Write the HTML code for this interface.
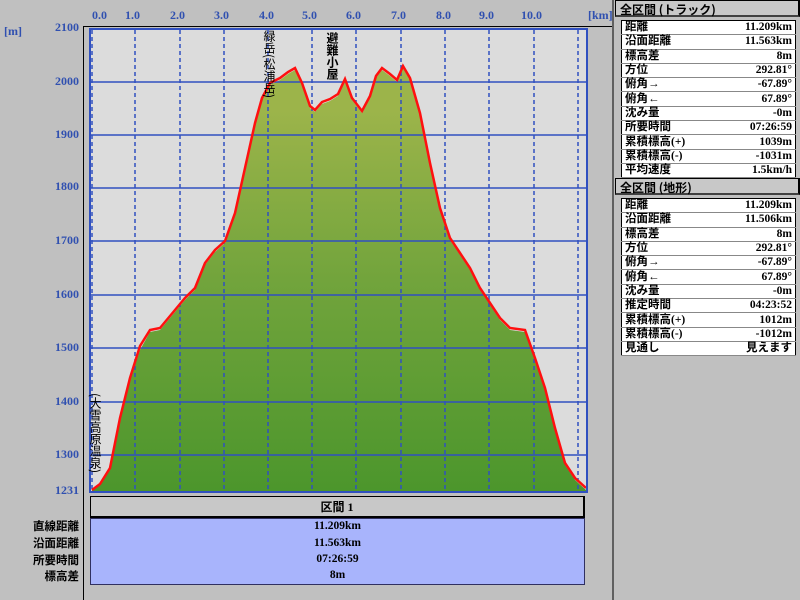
<!DOCTYPE html>
<html><head><meta charset="utf-8"><style>
body{margin:0;width:800px;height:600px;background:#c0c0c0;font-family:"Liberation Serif","Noto Serif CJK SC","Noto Sans CJK JP",serif;overflow:hidden;position:relative}
.a{position:absolute}
.ax{font-size:12px;font-weight:bold;color:#3050b0;font-family:"Liberation Serif",serif}
.yl{right:721px;text-align:right}
.panel{position:absolute;left:615px;width:185px}
.hd{height:17px;border:1px solid #000;border-right:2px solid #000;border-bottom:2px solid #404040;background:#c8c8c8;font-size:12px;font-weight:bold;padding-left:4px;line-height:17px;box-sizing:border-box;font-family:"Noto Sans CJK JP",sans-serif}
table.t{position:absolute;left:621px;width:175px;border-collapse:collapse;background:#fff;border:1px solid #000}
table.t td{border-bottom:1px solid #888;height:13.3px;padding:0 3px;font-size:11.5px;font-weight:bold;line-height:13px;font-family:"Liberation Serif","Noto Sans CJK JP",serif}
table.t td+td{text-align:right}
.vt{writing-mode:vertical-rl;font-size:12px;font-family:"Noto Sans CJK JP",sans-serif;color:#000}
.bl{position:absolute;right:721px;font-size:11.5px;font-weight:bold;font-family:"Noto Sans CJK JP",sans-serif}
.br{position:absolute;left:90px;width:495px;text-align:center;font-size:11.5px;font-weight:bold}
</style></head><body>
<div class="a" style="left:83px;top:26px;width:1px;height:574px;background:#000"></div>
<div class="a" style="left:83px;top:26px;width:530px;height:1px;background:#000"></div>
<div class="a" style="left:612px;top:0;width:2px;height:600px;background:#606060"></div>
<div class="ax a" style="left:92px;top:8px">0.0</div>
<div class="ax a" style="left:125px;top:8px">1.0</div>
<div class="ax a" style="left:170px;top:8px">2.0</div>
<div class="ax a" style="left:214px;top:8px">3.0</div>
<div class="ax a" style="left:259px;top:8px">4.0</div>
<div class="ax a" style="left:302px;top:8px">5.0</div>
<div class="ax a" style="left:346px;top:8px">6.0</div>
<div class="ax a" style="left:391px;top:8px">7.0</div>
<div class="ax a" style="left:436px;top:8px">8.0</div>
<div class="ax a" style="left:479px;top:8px">9.0</div>
<div class="ax a" style="left:521px;top:8px">10.0</div>
<div class="ax a" style="left:588px;top:8px">[km]</div>
<div class="ax a" style="left:4px;top:24px">[m]</div>
<div class="ax a yl" style="top:20px">2100</div>
<div class="ax a yl" style="top:74px">2000</div>
<div class="ax a yl" style="top:127px">1900</div>
<div class="ax a yl" style="top:179px">1800</div>
<div class="ax a yl" style="top:233px">1700</div>
<div class="ax a yl" style="top:287px">1600</div>
<div class="ax a yl" style="top:340px">1500</div>
<div class="ax a yl" style="top:394px">1400</div>
<div class="ax a yl" style="top:447px">1300</div>
<div class="ax a yl" style="top:483px">1231</div>
<svg class="a" style="left:0;top:0" width="800" height="600">
<defs><linearGradient id="g" x1="0" y1="0" x2="0" y2="1"><stop offset="0.1" stop-color="#9cb44a"/><stop offset="0.5" stop-color="#72a43c"/><stop offset="1" stop-color="#4c962c"/></linearGradient></defs>
<rect x="90" y="29" width="497" height="463" fill="#dcdcdc" stroke="#3050c0" stroke-width="2"/>
<path id="p" d="M92,490 L100,485 L110,470 L120,420 L130,380 L140,350 L150,332 L160,330 L170,318 L185,300 L195,290 L205,265 L215,252 L225,243 L235,215 L245,170 L255,125 L262,100 L270,85 L280,80 L288,74 L295,70 L302,85 L310,108 L315,112 L322,104 L330,101 L338,96 L345,81 L352,100 L362,113 L370,98 L376,78 L382,70 L390,76 L397,82 L403,68 L410,80 L420,115 L430,165 L440,210 L450,240 L460,255 L470,270 L480,290 L490,305 L500,320 L510,330 L525,332 L535,360 L545,390 L555,430 L565,465 L575,480 L586,490 L586,491 L92,491 Z" fill="url(#g)"/>
<g stroke="#3050c0" stroke-width="1.5">
<line x1="90" y1="82" x2="587" y2="82"/><line x1="90" y1="135" x2="587" y2="135"/><line x1="90" y1="188" x2="587" y2="188"/><line x1="90" y1="241" x2="587" y2="241"/><line x1="90" y1="295" x2="587" y2="295"/><line x1="90" y1="348" x2="587" y2="348"/><line x1="90" y1="402" x2="587" y2="402"/><line x1="90" y1="455" x2="587" y2="455"/>
</g>
<g stroke="#3050c0" stroke-width="1.5" stroke-dasharray="4,3">
<line x1="92" y1="30" x2="92" y2="491"/><line x1="135" y1="30" x2="135" y2="491"/><line x1="180" y1="30" x2="180" y2="491"/><line x1="224" y1="30" x2="224" y2="491"/><line x1="268" y1="30" x2="268" y2="491"/><line x1="312" y1="30" x2="312" y2="491"/><line x1="356" y1="30" x2="356" y2="491"/><line x1="401" y1="30" x2="401" y2="491"/><line x1="445" y1="30" x2="445" y2="491"/><line x1="489" y1="30" x2="489" y2="491"/><line x1="534" y1="30" x2="534" y2="491"/><line x1="578" y1="30" x2="578" y2="491"/>
</g>
<polyline fill="none" stroke="#ff1010" stroke-width="2.5" points="92,490 100,484 110,468 120,418 130,378 140,346 150,330 160,328 170,316 185,298 195,288 205,263 215,250 225,241 235,213 245,168 255,123 262,98 270,83 280,78 288,72 295,68 302,83 310,106 315,110 322,102 330,99 338,94 345,79 352,98 362,111 370,96 376,76 382,68 390,74 397,80 403,66 410,78 420,113 430,163 440,208 450,238 460,253 470,268 480,288 490,303 500,318 510,328 525,330 535,358 545,388 555,428 565,463 575,478 586,488"/>
<rect x="90" y="29" width="497" height="463" fill="none" stroke="#3050c0" stroke-width="2"/>
</svg>
<div class="a vt" style="left:261px;top:30px">緑岳(松浦岳)</div>
<div class="a vt" style="left:326px;top:32px;line-height:12px;font-weight:bold">避難小屋</div>
<div class="a vt" style="left:87px;top:393px">(大雪高原温泉)</div>
<div class="a" style="left:90px;top:496px;width:495px;height:22px;background:#c8c8c8;border:1px solid #000;border-right:2px solid #000;border-bottom:2px solid #000;box-sizing:border-box;text-align:center;font-size:12px;font-weight:bold;line-height:20px;font-family:'Liberation Serif','Noto Sans CJK JP',serif">区間 1</div>
<div class="a" style="left:90px;top:518px;width:495px;height:67px;background:#a8b4fc;border:1px solid #303060;box-sizing:border-box"></div>
<div class="bl" style="top:518px">直線距離</div><div class="br" style="top:520px">11.209km</div>
<div class="bl" style="top:535px">沿面距離</div><div class="br" style="top:537px">11.563km</div>
<div class="bl" style="top:552px">所要時間</div><div class="br" style="top:553px">07:26:59</div>
<div class="bl" style="top:568px">標高差</div><div class="br" style="top:569px">8m</div>
<div class="panel hd" style="top:0">全区間 (トラック)</div>
<table class="t" style="top:20px">
<tr><td>距離</td><td>11.209km</td></tr><tr><td>沿面距離</td><td>11.563km</td></tr><tr><td>標高差</td><td>8m</td></tr><tr><td>方位</td><td>292.81°</td></tr><tr><td>俯角→</td><td>-67.89°</td></tr><tr><td>俯角←</td><td>67.89°</td></tr><tr><td>沈み量</td><td>-0m</td></tr><tr><td>所要時間</td><td>07:26:59</td></tr><tr><td>累積標高(+)</td><td>1039m</td></tr><tr><td>累積標高(-)</td><td>-1031m</td></tr><tr><td>平均速度</td><td>1.5km/h</td></tr>
</table>
<div class="panel hd" style="top:178px">全区間 (地形)</div>
<table class="t" style="top:198px">
<tr><td>距離</td><td>11.209km</td></tr><tr><td>沿面距離</td><td>11.506km</td></tr><tr><td>標高差</td><td>8m</td></tr><tr><td>方位</td><td>292.81°</td></tr><tr><td>俯角→</td><td>-67.89°</td></tr><tr><td>俯角←</td><td>67.89°</td></tr><tr><td>沈み量</td><td>-0m</td></tr><tr><td>推定時間</td><td>04:23:52</td></tr><tr><td>累積標高(+)</td><td>1012m</td></tr><tr><td>累積標高(-)</td><td>-1012m</td></tr><tr><td>見通し</td><td>見えます</td></tr>
</table>
</body></html>
